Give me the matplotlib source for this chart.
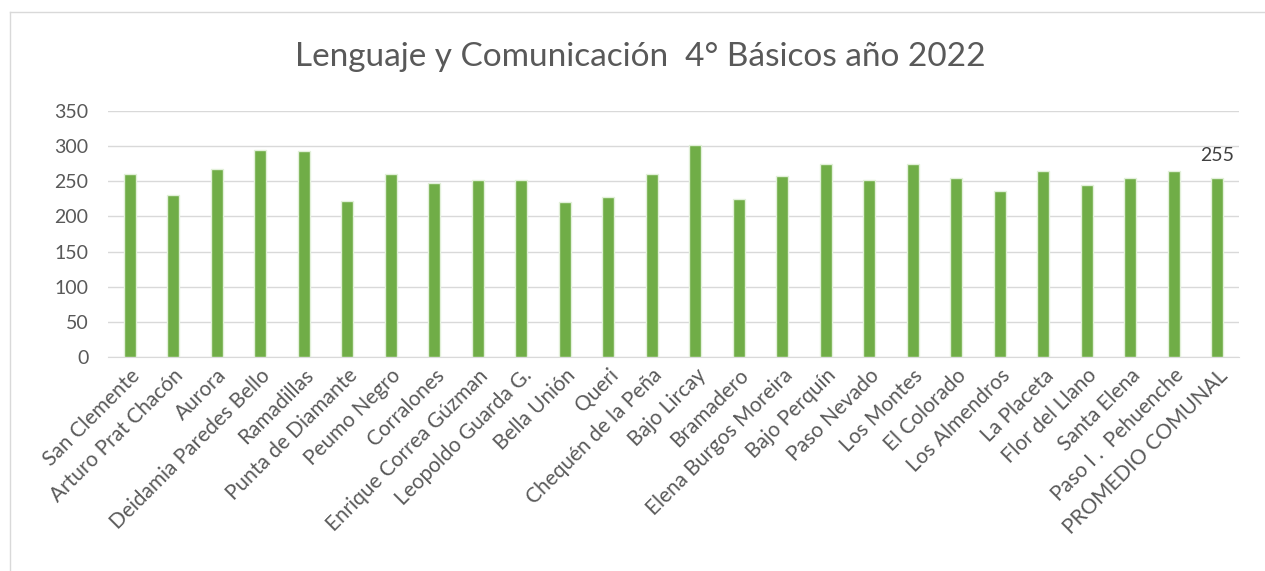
import matplotlib.pyplot as plt
from matplotlib.lines import Line2D

# data
escuelas = ['San Clemente', 'Arturo Prat Chacón', 'Aurora', 'Deidamia Paredes Bello',
            'Ramadillas', 'Punta de Diamante', 'Peumo Negro', 'Corralones',
            'Enrique Correa Gúzman', 'Leopoldo Guarda G.', 'Bella Unión', 'Queri',
            'Chequén de la Peña', 'Bajo Lircay', 'Bramadero', 'Elena Burgos Moreira',
            'Bajo Perquín', 'Paso Nevado', 'Los Montes', 'El Colorado',
            'Los Almendros', 'La Placeta', 'Flor del Llano', 'Santa Elena',
            'Paso I .  Pehuenche', 'PROMEDIO COMUNAL']
puntajes = [261, 231, 267, 295, 293, 222, 261, 247, 252, 252, 220, 227, 261,
            302, 225, 258, 275, 252, 275, 254, 236, 265, 245, 254, 265, 255]
yticks = [0, 50, 100, 150, 200, 250, 300, 350]

plt.rcParams['font.family'] = ['Lato', 'DejaVu Sans']

fig = plt.figure(figsize=(12.65, 5.71), dpi=100)
ax = fig.add_axes([108 / 1265, 214 / 571, (1239 - 108) / 1265, 246 / 571])

x = range(len(escuelas))
ax.bar(x, puntajes, width=0.28, color='#70AD47', edgecolor='#E2F0D9', linewidth=1, zorder=3)

# data label only on the commune average
ax.text(len(escuelas) - 1, puntajes[-1] + 20, str(puntajes[-1]), ha='center', va='bottom',
        fontsize=14, color='#404040')

ax.set_xlim(-0.5, len(escuelas) - 0.5)
ax.set_ylim(0, 350)
ax.set_yticks(yticks)
ax.set_xticks(list(x))
ax.set_xticklabels(escuelas, rotation=45, ha='right', rotation_mode='anchor', fontsize=15)
ax.tick_params(axis='both', length=0, labelcolor='#595959')
ax.tick_params(axis='y', pad=14, labelsize=14)
ax.tick_params(axis='x', pad=6)

ax.grid(axis='y', color='#D9D9D9', linewidth=1, zorder=0)
for s in ['top', 'right', 'left']:
    ax.spines[s].set_visible(False)
ax.spines['bottom'].set_color('#D9D9D9')

fig.text(640 / 1265, 1 - 57 / 571, 'Lenguaje y Comunicación  4° Básicos año 2022',
         ha='center', va='center', fontsize=24, color='#595959')

# chart area border (cropped on right and bottom)
fig.add_artist(Line2D([10 / 1265, 10 / 1265], [0, 1 - 12 / 571], transform=fig.transFigure,
                      color='#D9D9D9', linewidth=1))
fig.add_artist(Line2D([10 / 1265, 1], [1 - 12 / 571, 1 - 12 / 571], transform=fig.transFigure,
                      color='#D9D9D9', linewidth=1))

fig.savefig('out.png', dpi=100)
